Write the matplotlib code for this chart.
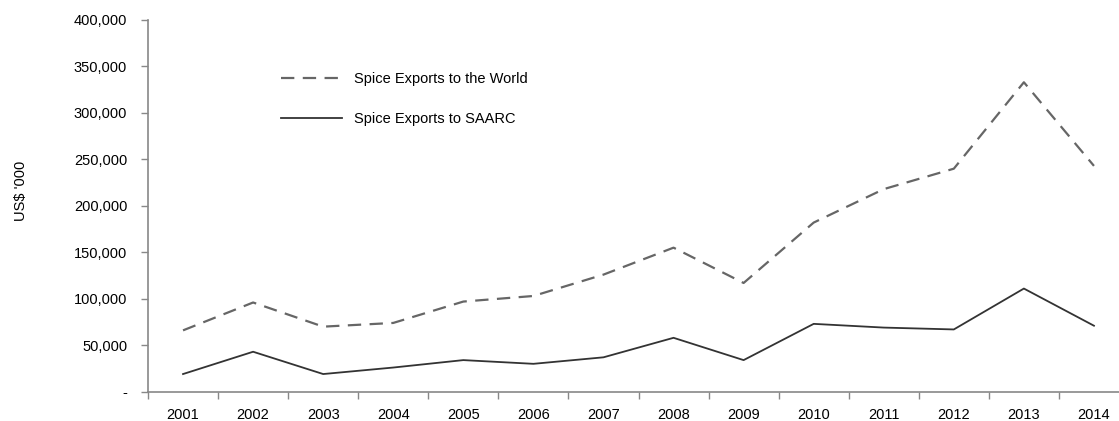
import matplotlib.pyplot as plt
import numpy as np
from matplotlib.ticker import FixedLocator, FuncFormatter

plt.rcParams["font.family"] = ["Liberation Sans", "DejaVu Sans"]

years = ["2001", "2002", "2003", "2004", "2005", "2006", "2007",
         "2008", "2009", "2010", "2011", "2012", "2013", "2014"]
world = [66000, 96000, 70000, 74000, 97000, 103000, 126000,
         155000, 117000, 182000, 218000, 240000, 333000, 243000]
saarc = [19000, 43000, 19000, 26000, 34000, 30000, 37000,
         58000, 34000, 73000, 69000, 67000, 111000, 71000]
y_ticks = [0, 50000, 100000, 150000, 200000, 250000, 300000, 350000, 400000]


def fmt_thousands(v, _):
    if v == 0:
        return "-"
    return f"{int(v):,}"


fig = plt.figure(figsize=(11.19, 4.21), dpi=100)
ax = fig.add_axes([148 / 1119, 29.3 / 421, 981 / 1119, 371.7 / 421])

xs = np.arange(len(years)) + 0.5
ax.plot(xs, world, color="#666666", lw=1.6, dashes=(6, 3.8),
        label="Spice Exports to the World")
ax.plot(xs, saarc, color="#333333", lw=1.3, label="Spice Exports to SAARC")

ax.set_xlim(0, len(years))
ax.set_ylim(0, 400000)

# category boundaries get the tick marks, centres get the labels
ax.xaxis.set_major_locator(FixedLocator(np.arange(len(years) + 1)))
ax.xaxis.set_major_formatter(FuncFormatter(lambda v, _: ""))
ax.set_xticks(xs, years, minor=True)
ax.tick_params(axis="x", which="major", length=5, color="#888888", width=1)
ax.tick_params(axis="x", which="minor", length=0, pad=12, labelsize=10.5)

ax.set_yticks(y_ticks)
ax.yaxis.set_major_formatter(FuncFormatter(fmt_thousands))
ax.tick_params(axis="y", length=5, color="#888888", width=1, pad=10,
               labelsize=10.5)

for side in ["top", "right"]:
    ax.spines[side].set_visible(False)
for side in ["left", "bottom"]:
    ax.spines[side].set_color("#888888")
    ax.spines[side].set_linewidth(1.2)

ax.set_ylabel("US$ '000", fontsize=10.5)
ax.yaxis.set_label_coords(-0.1225, 0.54)

ax.legend(loc="upper left", bbox_to_anchor=(0.122, 0.895), frameon=False,
          fontsize=10.5, handlelength=4.2, handletextpad=0.8,
          labelspacing=1.75)

fig.savefig("out.png", dpi=100)
